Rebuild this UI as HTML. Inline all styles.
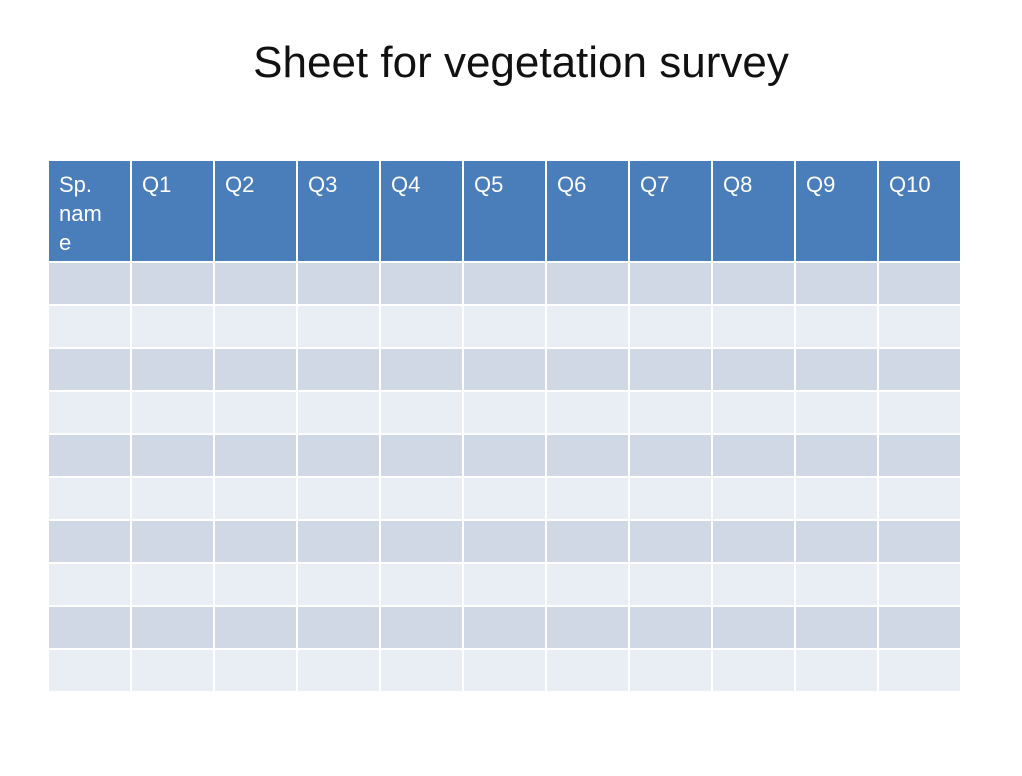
<!DOCTYPE html>
<html><head><meta charset="utf-8"><style>
html,body{margin:0;padding:0;background:#fff;}
body{width:1022px;height:776px;position:relative;overflow:hidden;font-family:"Liberation Sans",sans-serif;}
#title{position:absolute;left:0;width:1042px;top:38px;text-align:center;font-size:44px;color:#111;}
table{position:absolute;left:47px;top:159px;border-collapse:separate;border-spacing:2px;}
td,th{padding:0;}
th{background:#4a7ebb;color:#fff;font-weight:normal;font-size:22px;text-align:left;vertical-align:top;height:100px;width:81px;padding:9px 0 0 10px;box-sizing:border-box;line-height:29px;}
tr.hdr{}
td{height:41px;width:81px;}
tr.d td{background:#d0d8e6;}
tr.l td{background:#e9eef5;}
tr.gap td{height:0;}
</style></head><body>
<div id="title">Sheet for vegetation survey</div>
<table id="t">
<tr>
<th>Sp.<br>nam<br>e</th>
<th>Q1</th>
<th>Q2</th>
<th>Q3</th>
<th>Q4</th>
<th>Q5</th>
<th>Q6</th>
<th>Q7</th>
<th>Q8</th>
<th>Q9</th>
<th>Q10</th>
</tr>
</table>
<script>
var t=document.getElementById('t');
for(var r=0;r<10;r++){
  var tr=document.createElement('tr');
  tr.className=(r%2==0)?'d':'l';
  
  
  for(var c=0;c<11;c++){
    var td=document.createElement('td');
    
    
    tr.appendChild(td);
  }
  t.appendChild(tr);
}
</script>
</body></html>
